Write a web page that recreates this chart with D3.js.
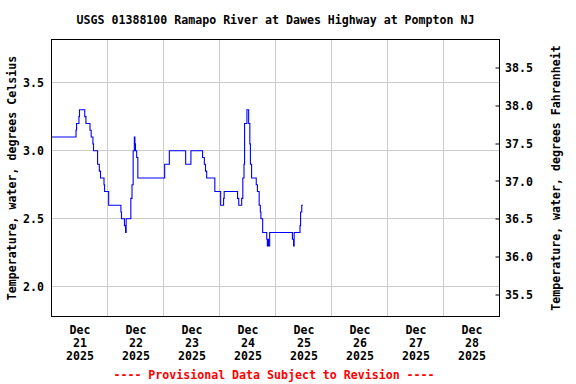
<!DOCTYPE html>
<html>
<head>
<meta charset="utf-8">
<script src="https://cdn.jsdelivr.net/npm/d3@7"></script>
<style>
  html, body { margin: 0; padding: 0; background: #fff; }
  svg { display: block; }
  text { font-family: "DejaVu Sans Mono", "Liberation Mono", monospace; font-weight: bold; font-size: 11.6px; fill: #000; }
</style>
</head>
<body>
<svg id="chart" width="576" height="384"></svg>
<script>
// ---- data (change points of the step series, 15-min USGS record) ----
const title = "USGS 01388100 Ramapo River at Dawes Highway at Pompton NJ";
const times = [
  "2025-12-21T00:00","2025-12-21T10:30","2025-12-21T10:45","2025-12-21T11:45","2025-12-21T12:00",
  "2025-12-21T14:15","2025-12-21T14:45","2025-12-21T16:30","2025-12-21T17:00","2025-12-21T17:45",
  "2025-12-21T18:00","2025-12-21T19:45","2025-12-21T20:30","2025-12-21T21:00","2025-12-21T22:30",
  "2025-12-21T22:45","2025-12-22T00:30","2025-12-22T05:45","2025-12-22T06:00","2025-12-22T07:15",
  "2025-12-22T07:45","2025-12-22T08:00","2025-12-22T10:00","2025-12-22T10:30","2025-12-22T11:00",
  "2025-12-22T11:30","2025-12-22T11:45","2025-12-22T12:00","2025-12-22T12:30","2025-12-22T13:00",
  "2025-12-23T00:30","2025-12-23T02:30","2025-12-23T09:30","2025-12-23T11:45","2025-12-23T16:45",
  "2025-12-23T17:30","2025-12-23T18:00","2025-12-23T18:30","2025-12-23T22:00","2025-12-24T00:30",
  "2025-12-24T01:45","2025-12-24T02:00","2025-12-24T07:45","2025-12-24T08:15","2025-12-24T09:30",
  "2025-12-24T10:00","2025-12-24T10:30","2025-12-24T10:45","2025-12-24T11:45","2025-12-24T12:30",
  "2025-12-24T13:00","2025-12-24T13:15","2025-12-24T13:45","2025-12-24T15:45","2025-12-24T16:15",
  "2025-12-24T17:00","2025-12-24T17:30","2025-12-24T17:45","2025-12-24T18:30","2025-12-24T20:15",
  "2025-12-24T20:30","2025-12-24T20:45","2025-12-24T21:00","2025-12-24T21:30","2025-12-25T07:15",
  "2025-12-25T07:45","2025-12-25T08:00","2025-12-25T10:30","2025-12-25T10:45","2025-12-25T11:15",
  "2025-12-25T11:45"
];
const tempC = [
  3.1, 3.15, 3.2, 3.25, 3.3,
  3.25, 3.2, 3.15, 3.1, 3.05,
  3.0, 2.9, 2.85, 2.8, 2.75,
  2.7, 2.6, 2.55, 2.5, 2.45,
  2.4, 2.5, 2.65, 2.75, 3.0,
  3.1, 3.05, 3.0, 2.95, 2.8,
  2.9, 3.0, 2.9, 3.0, 2.95,
  2.9, 2.85, 2.8, 2.7, 2.6,
  2.65, 2.7, 2.65, 2.6, 2.65,
  2.8, 2.9, 3.2, 3.3, 3.2,
  3.05, 2.9, 2.8, 2.75, 2.7,
  2.6, 2.55, 2.5, 2.4, 2.35,
  2.3, 2.35, 2.3, 2.4, 2.35,
  2.3, 2.4, 2.45, 2.55, 2.6,
  2.6
];
const celsiusTicks = [2.0, 2.5, 3.0, 3.5];
const fahrenheitTicks = [35.5, 36.0, 36.5, 37.0, 37.5, 38.0, 38.5];
const dayLabels = ["2025-12-21","2025-12-22","2025-12-23","2025-12-24","2025-12-25","2025-12-26","2025-12-27","2025-12-28"];
const gridDays = ["2025-12-22","2025-12-23","2025-12-24","2025-12-25","2025-12-26","2025-12-27","2025-12-28"];
const xStart = "2025-12-21T00:00", xEnd = "2025-12-29T00:00";
const yDomainC = [1.783, 3.816];
const leftLabel = "Temperature, water, degrees Celsius";
const rightLabel = "Temperature, water, degrees Fahrenheit";
const footer = "---- Provisional Data Subject to Revision ----";

// ---- drawing ----
const parseT = d3.timeParse("%Y-%m-%dT%H:%M");
const parseD = d3.timeParse("%Y-%m-%d");
const data = times.map((t, i) => ({ t: parseT(t), v: tempC[i] }));

const L = 51.5, R = 499.5, T = 39.5, B = 316.5;
const svg = d3.select("#chart");

const x = d3.scaleTime().domain([parseT(xStart), parseT(xEnd)]).range([L, R]);
const y = d3.scaleLinear().domain(yDomainC).range([B, T]);
const yF = d3.scaleLinear().domain(yDomainC.map(c => c * 1.8 + 32)).range([B, T]);
const snap = v => Math.round(v - 0.5) + 0.5;

// grid
const grid = svg.append("g").attr("stroke", "#cccccc").attr("stroke-width", 1);
grid.selectAll("line.h").data(celsiusTicks).join("line")
  .attr("x1", L).attr("x2", R)
  .attr("y1", d => snap(y(d))).attr("y2", d => snap(y(d)));
grid.selectAll("line.v").data(gridDays).join("line")
  .attr("y1", T).attr("y2", B)
  .attr("x1", d => snap(x(parseD(d)))).attr("x2", d => snap(x(parseD(d))));

// data line
const line = d3.line().x(d => x(d.t)).y(d => y(d.v)).curve(d3.curveStepAfter);
svg.append("path").datum(data)
  .attr("d", line).attr("fill", "none").attr("stroke", "#0000ff").attr("stroke-width", 1.1);

// left axis (Celsius)
const axL = svg.append("g").attr("transform", `translate(${L},0)`)
  .call(d3.axisLeft(y).tickValues(celsiusTicks).tickFormat(d3.format(".1f")).tickSize(0).tickPadding(7.5));
axL.select(".domain").remove();
axL.selectAll("text").attr("dy", "0.35em");

// right axis (Fahrenheit), short inward ticks
const axR = svg.append("g").attr("transform", `translate(${R},0)`)
  .call(d3.axisRight(yF).tickValues(fahrenheitTicks).tickFormat(d3.format(".1f")).tickSize(-4).tickPadding(5.5));
axR.select(".domain").remove();
axR.selectAll("line").attr("stroke", "#000").attr("transform", d => `translate(0,${snap(yF(d)) - yF(d)})`);
axR.selectAll("text").attr("dy", "0.35em");

// bottom axis labels (three lines, at noon of each day)
const noon = d => d3.timeHour.offset(parseD(d), 12);
const axB = svg.append("g").attr("transform", `translate(0,${B})`)
  .call(d3.axisBottom(x).tickValues(dayLabels.map(noon)).tickSize(0).tickFormat(""));
axB.select(".domain").remove();
axB.selectAll(".tick text").each(function(d) {
  const t = d3.select(this).attr("y", 0).attr("dy", null);
  const lines = [d3.timeFormat("%b")(d), d3.timeFormat("%-d")(d), d3.timeFormat("%Y")(d)];
  t.selectAll("tspan").data(lines).join("tspan")
    .attr("x", 0).attr("y", (s, i) => 17.5 + i * 13).text(s => s);
});

// frame
svg.append("rect").attr("x", L).attr("y", T).attr("width", R - L).attr("height", B - T)
  .attr("fill", "none").attr("stroke", "#000").attr("stroke-width", 1);

// titles
svg.append("text").attr("x", (L + R) / 2).attr("y", 24).attr("text-anchor", "middle").text(title);
svg.append("text").attr("transform", `translate(12,${(T + B) / 2}) rotate(-90)`)
  .attr("text-anchor", "middle").attr("dy", "0.35em").text(leftLabel);
svg.append("text").attr("transform", `translate(556,${(T + B) / 2}) rotate(-90)`)
  .attr("text-anchor", "middle").attr("dy", "0.35em").text(rightLabel);
svg.append("text").attr("x", 274).attr("y", 379).attr("text-anchor", "middle")
  .style("fill", "#ff0000").text(footer);
</script>
</body>
</html>
